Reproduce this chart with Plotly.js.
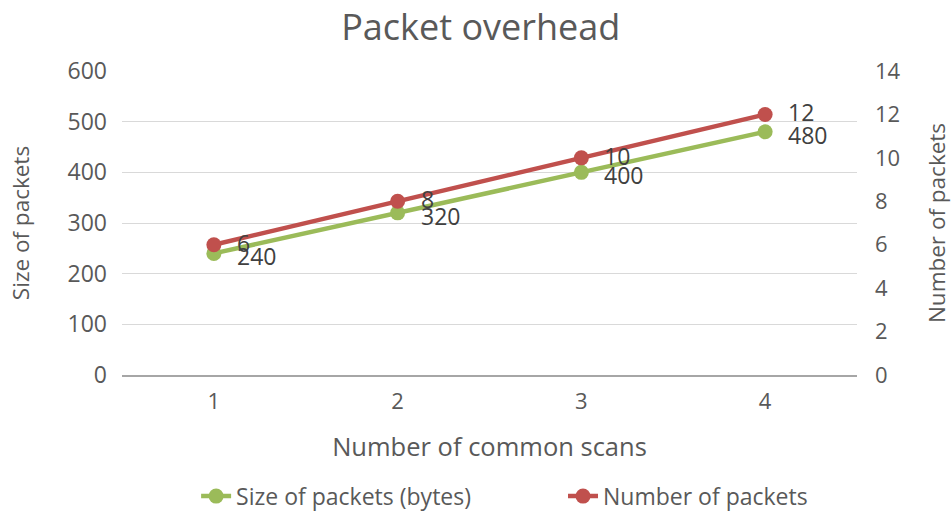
<!DOCTYPE html>
<html><head><meta charset="utf-8">
<script src="https://cdn.plot.ly/plotly-3.0.1.min.js"></script>
<style>body{margin:0;background:#fff}#chart{width:952px;height:512px}</style>
</head><body><div id="chart"></div>
<script>
const categories = [1, 2, 3, 4];
const sizeOfPackets = [240, 320, 400, 480];
const numberOfPackets = [6, 8, 10, 12];
const sizeName = 'Size of packets (bytes)';
const numberName = 'Number of packets';

const FAM = '"Open Sans", "Noto Sans", sans-serif';
const GREEN = '#9BBB59', RED = '#C0504D';

const traces = [
  {x: categories, y: sizeOfPackets, name: sizeName, type: 'scatter', mode: 'lines+markers', legend: 'legend',
   line: {color: GREEN, width: 4.5}, marker: {color: GREEN, size: 15}, yaxis: 'y', cliponaxis: false},
  {x: categories, y: numberOfPackets, name: numberName, type: 'scatter', mode: 'lines+markers', legend: 'legend2',
   line: {color: RED, width: 4.5}, marker: {color: RED, size: 15}, yaxis: 'y2', cliponaxis: false}
];

const labelFont = {family: FAM, size: 23, color: '#404040'};
const annotations = [];
categories.forEach((c, i) => {
  annotations.push({x: c, y: sizeOfPackets[i], xref: 'x', yref: 'y', text: String(sizeOfPackets[i]),
    showarrow: false, xanchor: 'left', yanchor: 'middle', xshift: 21, yshift: -3, font: labelFont});
  annotations.push({x: c, y: numberOfPackets[i], xref: 'x', yref: 'y2', text: String(numberOfPackets[i]),
    showarrow: false, xanchor: 'left', yanchor: 'middle', xshift: 21, yshift: 2, font: labelFont});
});

const legendFont = {family: FAM, size: 23, color: '#595959'};

const layout = {
  width: 952, height: 512,
  margin: {l: 122, r: 95, t: 71, b: 137, autoexpand: false},
  paper_bgcolor: '#fff', plot_bgcolor: '#fff',
  font: {family: FAM, color: '#595959', size: 22},
  title: {text: 'Packet overhead', font: {family: FAM, size: 36, color: '#595959'}, x: 0.505, xanchor: 'center', y: 0.947, yanchor: 'middle', automargin: false},
  showlegend: true,
  legend: {orientation: 'h', xref: 'container', yref: 'container', x: 0.206, xanchor: 'left', y: 0.031, yanchor: 'middle', font: legendFont},
  legend2: {orientation: 'h', xref: 'container', yref: 'container', x: 0.5914, xanchor: 'left', y: 0.031, yanchor: 'middle', font: legendFont},
  annotations: annotations,
  xaxis: {range: [0.5, 4.5], tickvals: categories, ticktext: categories.map(String), showgrid: false, automargin: false,
    showline: true, linecolor: '#a6a6a6', linewidth: 1.5, ticks: '', zeroline: false, ticklabelstandoff: 6,
    tickfont: {size: 22}, title: {text: 'Number of common scans', font: {size: 25.5}, standoff: 24}},
  yaxis: {range: [0, 600], dtick: 100, showgrid: true, gridcolor: '#d9d9d9', zeroline: false, automargin: false,
    tickfont: {size: 23}, ticks: '', ticklabelstandoff: 14,
    title: {text: 'Size of packets', font: {size: 22.5}, standoff: 31}},
  yaxis2: {range: [0, 14], dtick: 2, overlaying: 'y', side: 'right', showgrid: false, zeroline: false, automargin: false,
    tickfont: {size: 22}, ticks: '', ticklabelstandoff: 17,
    title: {text: 'Number of packets', font: {size: 22.5}, standoff: 30}}
};

Plotly.newPlot('chart', traces, layout, {displayModeBar: false, responsive: false});
</script></body></html>
